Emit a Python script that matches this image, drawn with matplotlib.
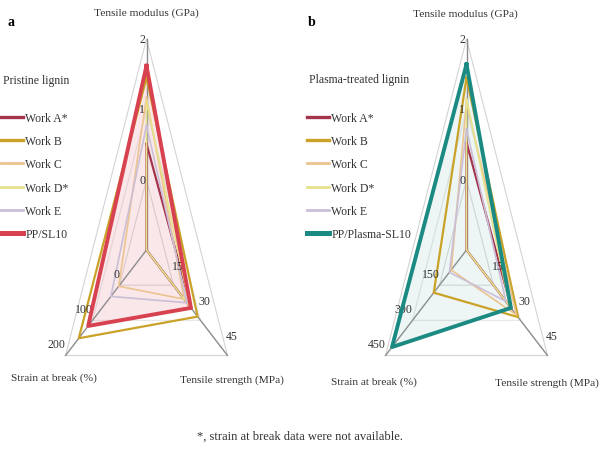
import numpy as np
import matplotlib

matplotlib.use("Agg")
import matplotlib.pyplot as plt
from matplotlib.lines import Line2D

plt.rcParams["font.family"] = ["Liberation Serif", "DejaVu Serif"]

# axis order: Tensile modulus (top), Tensile strength (lower right), Strain at break (lower left)
series_names_a = ["Work A*", "Work B", "Work C", "Work D*", "Work E", "PP/SL10"]
series_names_b = ["Work A*", "Work B", "Work C", "Work D*", "Work E", "PP/Plasma-SL10"]
colors_a = ["#a3344c", "#c9a227", "#ebc48f", "#e6e28c", "#cbbfd8", "#d8414f"]
colors_b = ["#a3344c", "#c9a227", "#ebc48f", "#e6e28c", "#cbbfd8", "#1b8a82"]
widths = [1.6, 1.6, 1.2, 1.2, 1.2, 2.8]

modulus_a = [0.51, 1.45, 1.17, 1.12, 0.77, 1.62]      # GPa
strength_a = [25.0, 28.4, 21.0, 24.0, 22.5, 24.7]     # MPa
strain_a = [None, 151, 3, None, 32, 116]              # %

modulus_b = [0.53, 1.45, 1.10, 1.15, 0.72, 1.64]
strength_b = [25.0, 28.6, 27.7, 24.0, 21.9, 24.7]
strain_b = [None, 182, 85, None, 95, 414]

modulus_ticks = [0, 1, 2]
strength_ticks = [15, 30, 45]
strain_ticks_a = [0, 100, 200]
strain_ticks_b = [150, 300, 450]

theta = np.deg2rad([0, 120, 240])


def scale(ticks):
    """linear map value -> radius so that ticks sit at radius 1, 2, 3"""
    step = ticks[1] - ticks[0]
    return lambda v: (v - ticks[0]) / step + 1


def draw_radar(ax, names, colors, modulus, strength, strain, strain_ticks, fill_alpha):
    ax.set_theta_zero_location("N")
    ax.set_theta_direction(-1)
    ax.set_aspect("auto")
    ax.set_ylim(0, 3)
    ax.axis("off")

    f_mod = scale(modulus_ticks)
    f_str = scale(strength_ticks)
    f_stn = scale(strain_ticks)

    # triangular grid
    closed = np.append(theta, theta[0])
    for lvl, col in [(1, "#dcdcdc"), (2, "#e6e6e6"), (3, "#d4d4d4")]:
        ax.plot(closed, [lvl] * 4, color=col, lw=0.8, clip_on=False, zorder=1)
    for t in theta:
        ax.plot([t, t], [0, 3], color="#8c8c8c", lw=1.0, clip_on=False, zorder=2)

    for i, name in enumerate(names):
        r = [f_mod(modulus[i]), f_str(strength[i]),
             0 if strain[i] is None else f_stn(strain[i])]
        r = r + [r[0]]
        main = i == len(names) - 1
        if main:
            ax.fill(closed, r, color=colors[i], alpha=fill_alpha, lw=0, zorder=1)
        ax.plot(closed, r, color=colors[i], lw=widths[i], label=name,
                clip_on=False, zorder=5 if main else 3)

    # tick labels
    for v in modulus_ticks:
        ax.annotate(str(v), (theta[0], f_mod(v)), xytext=(-1, 0),
                    textcoords="offset points", ha="right", va="center",
                    fontsize=8.5, color="#333333")
    for v in strength_ticks:
        ax.annotate(str(v), (theta[1], f_str(v)), xytext=(3, 14),
                    textcoords="offset points", ha="center", va="center",
                    fontsize=8.5, color="#333333")
    for v in strain_ticks:
        ax.annotate(str(v), (theta[2], f_stn(v)), xytext=(0, 8),
                    textcoords="offset points", ha="right", va="center",
                    fontsize=8.5, color="#333333")


fig = plt.figure(figsize=(6, 4.52), dpi=100)
W, H = 600.0, 452.0


def fx(x):
    return x / W


def fy(y):
    return 1 - y / H


ax_a = fig.add_axes([fx(146.5 - 93.5), fy(462), 187 / W, 422 / H], projection="polar")
ax_b = fig.add_axes([fx(466.5 - 93.5), fy(462), 187 / W, 422 / H], projection="polar")

draw_radar(ax_a, series_names_a, colors_a, modulus_a, strength_a, strain_a,
           strain_ticks_a, 0.12)
draw_radar(ax_b, series_names_b, colors_b, modulus_b, strength_b, strain_b,
           strain_ticks_b, 0.08)

txt = dict(fontsize=8.2, color="#333333", ha="center", va="center")
fig.text(fx(146), fy(13), "Tensile modulus (GPa)", **txt)
fig.text(fx(232), fy(380), "Tensile strength (MPa)", **txt)
fig.text(fx(54), fy(378), "Strain at break (%)", **txt)
fig.text(fx(465), fy(14), "Tensile modulus (GPa)", **txt)
fig.text(fx(547), fy(383), "Tensile strength (MPa)", **txt)
fig.text(fx(374), fy(382), "Strain at break (%)", **txt)

fig.text(fx(7), fy(22), "a", fontsize=10, fontweight="bold", va="center")
fig.text(fx(308), fy(23), "b", fontsize=10, fontweight="bold", va="center")
fig.text(fx(3), fy(81), "Pristine lignin", fontsize=8.5, color="#333333", va="center")
fig.text(fx(309), fy(80), "Plasma-treated lignin", fontsize=8.5, color="#333333",
         va="center")

for ax, x0, names, colors in [(ax_a, 1, series_names_a, colors_a),
                              (ax_b, 307, series_names_b, colors_b)]:
    handles = [Line2D([], [], color=c, lw=w + 0.8) for c, w in zip(colors, widths)]
    ax.legend(handles, names, loc="upper left", bbox_to_anchor=(fx(x0), fy(113)),
              bbox_transform=fig.transFigure, frameon=False, fontsize=8.5,
              borderpad=0, borderaxespad=0, handlelength=1.9, handletextpad=0.15,
              labelspacing=0.95, labelcolor="#333333")

fig.text(0.5, fy(437), "*, strain at break data were not available.",
         fontsize=9, color="#333333", ha="center", va="center")

fig.savefig("out.png", dpi=100)
plt.close(fig)
